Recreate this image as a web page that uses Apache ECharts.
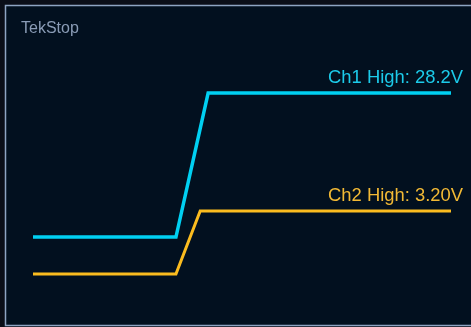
<!DOCTYPE html>
<html>
<head>
<meta charset="utf-8">
<script src="https://cdn.jsdelivr.net/npm/echarts@6/dist/echarts.min.js"></script>
<style>
  html, body { margin: 0; padding: 0; background: #0a0e18; }
  #chart { width: 471px; height: 327px; }
</style>
</head>
<body>
<div id="chart"></div>
<script>
// Sample times (percent of capture window) and voltages per channel
const ch1Time = [0, 34.2, 41.9, 100];
const ch1Volts = [0, 0, 28.2, 28.2];
const ch2Time = [0, 34.2, 40.0, 100];
const ch2Volts = [0, 0, 3.20, 3.20];
const ch1Label = 'Ch1 High: 28.2V';
const ch2Label = 'Ch2 High: 3.20V';
const titleText = 'TekStop';

const zip = (xs, ys) => xs.map((x, i) => [x, ys[i]]);

function endLabel(text, color) {
  return {
    show: true,
    formatter: text,
    distance: 0,
    offset: [12, -6],
    align: 'right',
    verticalAlign: 'bottom',
    color: color,
    fontSize: 18.4,
    fontFamily: 'Liberation Sans, Arial, sans-serif'
  };
}

const chart = echarts.init(document.getElementById('chart'), null, { renderer: 'canvas' });
chart.setOption({
  backgroundColor: '#0a0e18',
  animation: false,
  graphic: [
    {
      type: 'rect',
      z: -10,
      shape: { x: 5.5, y: 5.5, width: 480, height: 320 },
      style: { fill: '#02101f', stroke: '#8ea4c2', lineWidth: 1.5 }
    },
    {
      type: 'text',
      left: 21, top: 21,
      style: {
        text: titleText,
        fill: '#8a9cb6',
        fontSize: 16,
        fontFamily: 'Liberation Sans, Arial, sans-serif'
      }
    }
  ],
  grid: { left: 33, right: 20, top: 43, bottom: 44 },
  xAxis: { type: 'value', min: 0, max: 100, show: false },
  yAxis: [
    { type: 'value', min: -9, max: 38, show: false },
    { type: 'value', min: -0.457, max: 11.733, show: false }
  ],
  series: [
    {
      type: 'line',
      yAxisIndex: 1,
      data: zip(ch2Time, ch2Volts),
      showSymbol: false,
      endLabel: endLabel(ch2Label, '#f2b935'),
      lineStyle: { color: '#fbbc1f', width: 3, join: 'miter' },
      z: 2
    },
    {
      type: 'line',
      yAxisIndex: 0,
      data: zip(ch1Time, ch1Volts),
      showSymbol: false,
      endLabel: endLabel(ch1Label, '#1ccbea'),
      lineStyle: { color: '#00d0f2', width: 3.5, join: 'miter' },
      z: 3
    }
  ]
});
</script>
</body>
</html>
